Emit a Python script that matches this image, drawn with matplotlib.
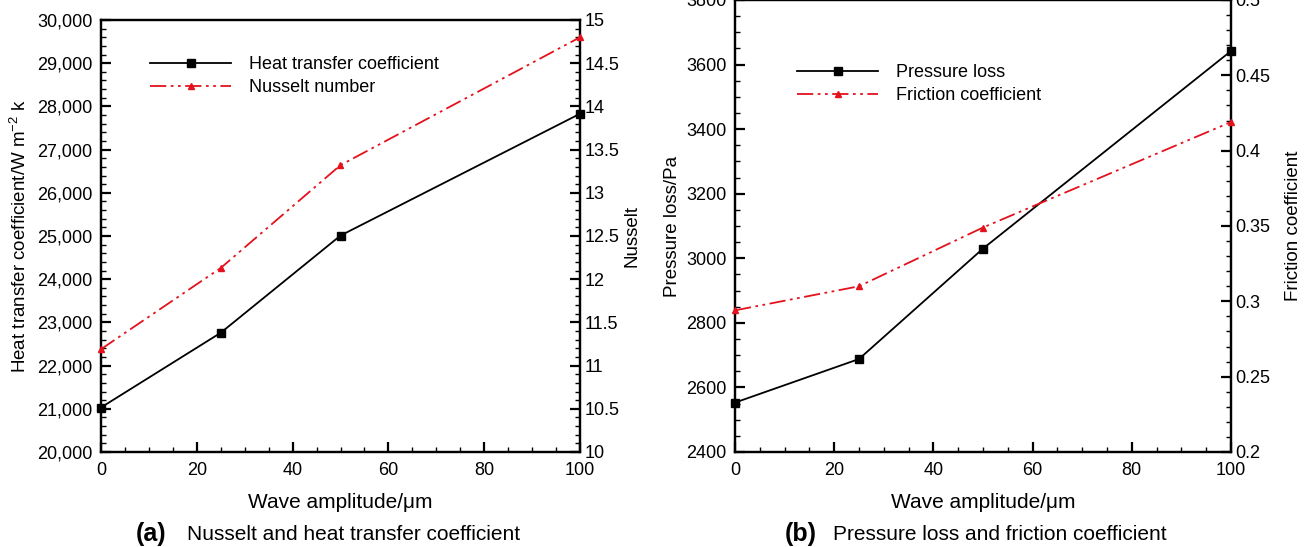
import numpy as np
import matplotlib.pyplot as plt
from matplotlib.ticker import MultipleLocator, FuncFormatter

plt.rcParams["font.family"] = ["Liberation Sans", "DejaVu Sans"]
plt.rcParams["mathtext.fontset"] = "custom"
plt.rcParams["mathtext.rm"] = "Liberation Sans"

# wave amplitude (um)
amplitude = [0, 25, 50, 100]

# (a) heat transfer
htc = [21030, 22760, 25010, 27830]
nusselt = [11.19, 12.13, 13.32, 14.80]

# (b) pressure drop
pressure_loss = [2553, 2688, 3030, 3642]
friction = [0.294, 0.310, 0.349, 0.419]

DASHDOTDOT = (0, (9, 2.5, 1.5, 2.5, 1.5, 2.5))
W, H = 1309, 547
TICK_FS = 13


def style_axis(ax, side):
    for s in ax.spines.values():
        s.set_linewidth(1.6)
    ax.tick_params(axis="both", which="major", direction="in", length=7, width=1.6,
                   labelsize=TICK_FS)
    ax.tick_params(axis="both", which="minor", direction="in", length=3.5, width=1.0)
    ax.tick_params(axis="x", top=False, which="both", pad=7)
    if side == "left":
        ax.tick_params(axis="y", which="both", left=True, right=False, pad=6)
    else:
        ax.tick_params(axis="y", which="both", left=False, right=True, pad=3)


def add_panel(rect, x, y1, y2, lab1, lab2, ylim1, ylim2, major1, minor1, major2, minor2,
              fmt1, leg_xy, ylab_pad):
    ax = fig.add_axes(rect)
    ax.plot(x, y1, color="black", lw=1.3, marker="s", ms=6, label=lab1[0], clip_on=False,
            zorder=5)
    ax.set_xlim(0, 100)
    ax.set_ylim(*ylim1)
    ax.xaxis.set_major_locator(MultipleLocator(20))
    ax.xaxis.set_minor_locator(MultipleLocator(5))
    ax.yaxis.set_major_locator(MultipleLocator(major1))
    ax.yaxis.set_minor_locator(MultipleLocator(minor1))
    ax.yaxis.set_major_formatter(fmt1)
    ax.set_xlabel("Wave amplitude/\u03bcm", fontsize=15, labelpad=10)
    ax.set_ylabel(lab1[1], fontsize=13.5, labelpad=ylab_pad[0])
    style_axis(ax, "left")

    ax2 = ax.twinx()
    ax2.plot(x, y2, color="#e3121c", lw=1.3, ls=DASHDOTDOT, marker="^", ms=5,
             label=lab2[0], clip_on=False, zorder=5)
    ax2.set_ylim(*ylim2)
    ax2.yaxis.set_major_locator(MultipleLocator(major2))
    ax2.yaxis.set_minor_locator(MultipleLocator(minor2))
    ax2.yaxis.set_major_formatter(FuncFormatter(lambda v, p: f"{v:g}"))
    ax2.set_ylabel(lab2[1], fontsize=13.5, labelpad=ylab_pad[1])
    style_axis(ax2, "right")

    h1, l1 = ax.get_legend_handles_labels()
    h2, l2 = ax2.get_legend_handles_labels()
    fig.legend(h1 + h2, l1 + l2, loc="upper left", bbox_to_anchor=leg_xy,
               frameon=False, fontsize=13, handlelength=4.5, handletextpad=1.0,
               labelspacing=0.35, borderpad=0, borderaxespad=0)
    return ax, ax2


fig = plt.figure(figsize=(W / 100, H / 100), dpi=100)

add_panel([101 / W, 95 / H, 479 / W, 432 / H], amplitude, htc, nusselt,
          ("Heat transfer coefficient", "Heat transfer coefficient/W m$^{-2}$ k"),
          ("Nusselt number", "Nusselt"),
          (20000, 30000), (10, 15), 1000, 200, 0.5, 0.1,
          FuncFormatter(lambda v, p: f"{v:,.0f}"),
          (150 / W, 1 - 56 / H), (5, 3))

add_panel([735 / W, 95 / H, 496 / W, 452 / H], amplitude, pressure_loss, friction,
          ("Pressure loss", "Pressure loss/Pa"),
          ("Friction coefficient", "Friction coefficient"),
          (2400, 3800), (0.2, 0.5), 200, 50, 0.05, 0.01,
          FuncFormatter(lambda v, p: f"{v:.0f}"),
          (797 / W, 1 - 64 / H), (4, 11))

# panel captions
cap_y = 1 - 534 / H
fig.text(136 / W, cap_y, "(a)", fontsize=18, fontweight="bold", va="center")
fig.text(187 / W, cap_y, "Nusselt and heat transfer coefficient", fontsize=15, va="center")
fig.text(785 / W, cap_y, "(b)", fontsize=18, fontweight="bold", va="center")
fig.text(833 / W, cap_y, "Pressure loss and friction coefficient", fontsize=15, va="center")

fig.savefig("out.png", dpi=100)
